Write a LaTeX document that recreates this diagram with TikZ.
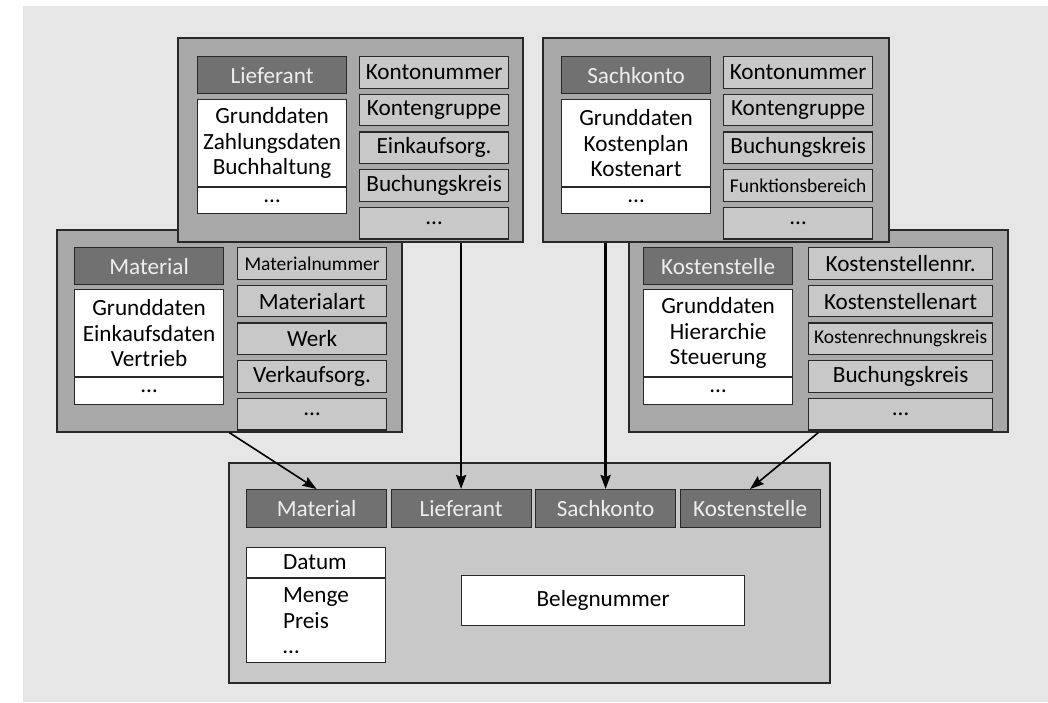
\documentclass[tikz,border=0pt]{standalone}
\usepackage{fontspec}
\setmainfont{Carlito}
\usetikzlibrary{positioning,arrows.meta}

\definecolor{bggray}{RGB}{230,230,230}
\definecolor{panelgray}{RGB}{168,168,168}
\definecolor{lowgray}{RGB}{200,200,200}
\definecolor{headgray}{RGB}{113,113,113}
\definecolor{fieldgray}{RGB}{200,200,200}
\definecolor{rim}{RGB}{40,40,40}

\tikzset{
  panel/.style={draw=rim, line width=1.6pt, fill=panelgray, anchor=north west, inner sep=0pt},
  head/.style={draw=rim, line width=1.2pt, fill=headgray, text=white!93!black, anchor=north west,
    minimum width=149pt, minimum height=37pt, inner sep=0pt},
  field/.style={draw=rim, line width=1.2pt, fill=fieldgray, minimum width=149pt, minimum height=31.5pt, inner sep=0pt},
  info/.style={draw=rim, line width=1.2pt, fill=white, minimum width=149pt, inner sep=0pt, align=center},
  small/.style={font=\fontsize{19.5}{22}\selectfont},
  link/.style={-{Stealth[length=14pt,width=10pt,inset=2pt]}, line width=1.6pt},
  trunk/.style={link, line width=2.6pt},
}

\begin{document}
\begin{tikzpicture}[x=1pt, y=-1pt, font=\fontsize{23.2}{25.5}\selectfont]
  \useasboundingbox (0,0) rectangle (1048,702);
  \fill[bggray] (23,6) rectangle (1048,702);

  %Material
  \node[panel, minimum width=345pt, minimum height=202pt] (mat) at (56,229) {};
  \node[head] (matH) at (74,247) {Material};
  \node[info, anchor=north west, minimum height=87pt] (matI) at (74,289) {Grunddaten\\Einkaufsdaten\\Vertrieb};
  \node[info, minimum height=27pt, below=0pt of matI] (matD) {…};
  \node[field, small, anchor=north west] (mat1) at (237,247) {Materialnummer};
  \node[field, below=5pt of mat1] (mat2) {Materialart};
  \node[field, below=5pt of mat2] (mat3) {Werk};
  \node[field, below=5pt of mat3] (mat4) {Verkaufsorg.};
  \node[field, below=5pt of mat4] (mat5) {…};

  %Kostenstelle
  \node[panel, minimum width=379pt, minimum height=202pt] (kst) at (628,229) {};
  \node[head] (kstH) at (643,247) {Kostenstelle};
  \node[info, anchor=north west, minimum height=87pt] (kstI) at (643,289) {Grunddaten\\Hierarchie\\Steuerung};
  \node[info, minimum height=27pt, below=0pt of kstI] (kstD) {…};
  \node[field, minimum width=184pt, anchor=north west] (kst1) at (808,247) {Kostenstellennr.};
  \node[field, minimum width=184pt, below=5pt of kst1] (kst2) {Kostenstellenart};
  \node[field, small, minimum width=184pt, below=5pt of kst2] (kst3) {Kostenrechnungskreis};
  \node[field, minimum width=184pt, below=5pt of kst3] (kst4) {Buchungskreis};
  \node[field, minimum width=184pt, below=5pt of kst4] (kst5) {…};

  %Lieferant
  \node[panel, minimum width=345pt, minimum height=204pt] (lief) at (177,37) {};
  \node[head] (liefH) at (197,56) {Lieferant};
  \node[info, anchor=north west, minimum height=87pt] (liefI) at (197,99) {Grunddaten\\Zahlungsdaten\\Buchhaltung};
  \node[info, minimum height=26pt, below=0pt of liefI] (liefD) {…};
  \node[field, anchor=north west] (lief1) at (359,56) {Kontonummer};
  \node[field, below=5pt of lief1] (lief2) {Kontengruppe};
  \node[field, below=5pt of lief2] (lief3) {Einkaufsorg.};
  \node[field, below=5pt of lief3] (lief4) {Buchungskreis};
  \node[field, below=5pt of lief4] (lief5) {…};

  %Sachkonto
  \node[panel, minimum width=346pt, minimum height=204pt] (sach) at (542,37) {};
  \node[head] (sachH) at (561,56) {Sachkonto};
  \node[info, anchor=north west, minimum height=87pt] (sachI) at (561,99) {Grunddaten\\Kostenplan\\Kostenart};
  \node[info, minimum height=26pt, below=0pt of sachI] (sachD) {…};
  \node[field, anchor=north west] (sach1) at (723,56) {Kontonummer};
  \node[field, below=5pt of sach1] (sach2) {Kontengruppe};
  \node[field, below=5pt of sach2] (sach3) {Buchungskreis};
  \node[field, small, below=5pt of sach3] (sach4) {Funktionsbereich};
  \node[field, below=5pt of sach4] (sach5) {…};

  %Beleg
  \node[panel, fill=lowgray, minimum width=601pt, minimum height=220pt] (beleg) at (228,462) {};
  \node[head, minimum width=140pt, minimum height=38pt] (bMat) at (246,489) {Material};
  \node[head, minimum width=140pt, minimum height=38pt, anchor=west, right=3.3pt of bMat] (bLief) {Lieferant};
  \node[head, minimum width=140pt, minimum height=38pt, anchor=west, right=3.3pt of bLief] (bSach) {Sachkonto};
  \node[head, minimum width=140pt, minimum height=38pt, anchor=west, right=3.3pt of bSach] (bKst) {Kostenstelle};
  \node[info, anchor=north west, minimum width=139pt, minimum height=30pt, text width=66pt, inner xsep=36.5pt, align=left] (datum) at (246,547) {Datum};
  \node[info, minimum width=139pt, minimum height=84pt, text width=66pt, inner xsep=36.5pt, align=left, below=0pt of datum] (werte) {Menge\\Preis\\…};
  \node[info, anchor=north west, minimum width=283pt, minimum height=50pt] (nummer) at (461,575) {Belegnummer};

  %Pfeile
  \draw[link] (mat.south) -- (bMat.north);
  \draw[trunk] (lief.south -| bLief.north) -- (bLief.north);
  \draw[trunk] (sach.south -| bSach.north) -- (bSach.north);
  \draw[link] (kst.south) -- (bKst.north);
\end{tikzpicture}
\end{document}
